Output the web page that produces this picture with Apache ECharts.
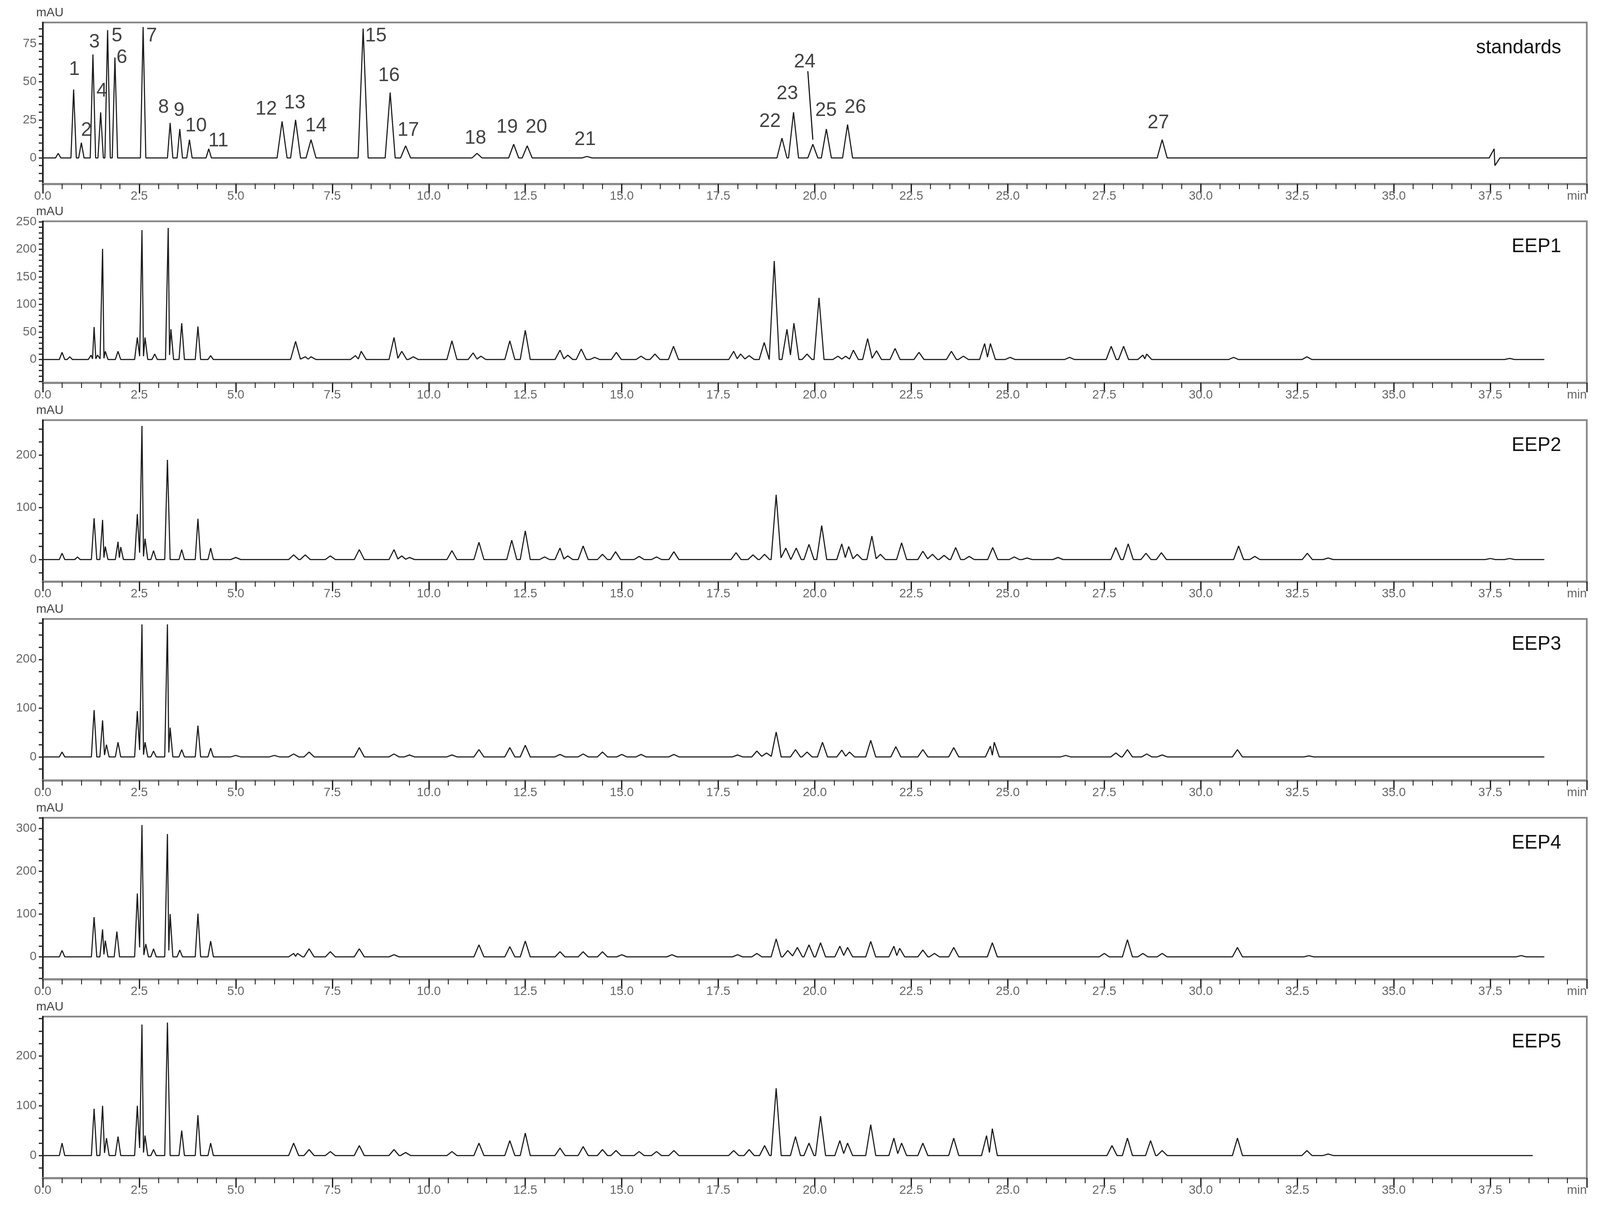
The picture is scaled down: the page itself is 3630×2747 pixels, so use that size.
<!DOCTYPE html>
<html><head><meta charset="utf-8">
<script src="https://cdn.jsdelivr.net/npm/echarts@6/dist/echarts.min.js"></script>
<style>html,body{margin:0;padding:0;background:#fff}#c{width:3630px;height:2747px}</style>
</head><body><div id="c"></div>
<script>
// ---- data: [retention time (min), height (mAU)] ----
const panelNames = ['standards','EEP1','EEP2','EEP3','EEP4','EEP5'];
const xTickLabels = ['0.0','2.5','5.0','7.5','10.0','12.5','15.0','17.5','20.0','22.5','25.0','27.5','30.0','32.5','35.0','37.5','min'];
const traceEnd = [40,38.9,38.9,38.9,38.9,38.6];

const peaksStd = [[0.4,3],[0.8,45],[1.0,10],[1.3,68],[1.5,30],[1.68,84],[1.87,66],[2.6,86],[3.3,23],[3.55,19],[3.8,12],[4.3,6],
 [6.2,24],[6.55,25],[6.95,12],[8.3,85],[9.0,43],[9.4,8],[11.25,3],[12.2,9],[12.55,8],[14.1,1],
 [19.15,13],[19.45,30],[19.95,9],[20.3,19],[20.85,22],[29.0,12],[37.6,6],[37.62,-5]];
const peaksEEP1 = [[0.5,13],[0.7,5],[1.25,8],[1.33,59],[1.42,8],[1.55,201],[1.62,15],[1.95,15],[2.45,40],[2.57,235],[2.65,40],[2.9,10],
 [3.25,239],[3.32,55],[3.6,66],[4.02,60],[4.35,7],[6.55,33],[6.8,5],[6.95,5],[8.1,7],[8.25,15],[9.1,40],[9.3,15],[9.6,5],
 [10.6,34],[11.15,12],[11.35,6],[12.1,34],[12.5,53],[13.4,17],[13.6,8],[13.95,19],[14.3,4],[14.86,13],[15.5,6],[15.86,10],
 [16.34,24],[17.9,15],[18.08,10],[18.3,7],[18.69,31],[18.95,179],[19.28,55],[19.46,66],[19.8,10],[20.11,112],[20.6,6],[20.8,6],
 [21.0,17],[21.37,38],[21.6,16],[22.08,20],[22.7,13],[23.54,15],[23.85,6],[24.4,29],[24.55,29],[25.06,4],[26.6,4],
 [27.68,24],[28.0,24],[28.5,8],[28.6,10],[30.85,4],[32.75,5],[38.0,2]];
const peaksEEP2 = [[0.5,12],[0.9,5],[1.33,79],[1.55,76],[1.62,25],[1.95,34],[2.02,24],[2.45,87],[2.57,256],[2.65,40],[2.87,17],
 [3.23,191],[3.6,19],[4.02,78],[4.35,22],[5.0,4],[6.5,9],[6.8,9],[7.45,7],[8.2,19],[9.1,19],[9.3,7],[9.5,4],[10.6,17],[11.3,33],
 [12.15,37],[12.5,55],[13.0,5],[13.4,22],[13.6,7],[14.0,26],[14.5,10],[14.84,15],[15.45,6],[15.9,5],[16.35,15],[17.96,13],
 [18.4,9],[18.7,10],[19.0,124],[19.25,22],[19.52,22],[19.85,29],[20.18,65],[20.7,30],[20.88,25],[21.1,10],[21.48,45],[21.7,10],
 [22.25,32],[22.8,16],[23.05,10],[23.35,8],[23.65,23],[24.0,6],[24.61,23],[25.17,5],[25.5,3],[26.3,4],[27.8,23],[28.12,30],
 [28.58,12],[28.98,13],[30.98,26],[31.4,6],[32.76,12],[33.3,3],[37.5,2],[38.0,2]];
const peaksEEP3 = [[0.5,10],[1.33,96],[1.55,75],[1.65,25],[1.95,30],[2.45,94],[2.57,272],[2.65,30],[2.87,12],[3.23,272],[3.3,60],
 [3.6,15],[4.02,64],[4.35,18],[5.0,3],[6.0,3],[6.5,6],[6.9,10],[8.2,19],[9.1,6],[9.5,4],[10.6,4],[11.3,15],[12.1,19],[12.5,24],
 [13.4,5],[14.0,6],[14.5,10],[15.0,5],[15.5,5],[16.35,5],[18.0,4],[18.5,12],[18.75,8],[19.0,51],[19.5,15],[19.8,10],[20.2,30],
 [20.7,14],[20.9,10],[21.45,34],[22.1,21],[22.8,15],[23.6,19],[24.55,22],[24.65,30],[26.5,3],[27.8,8],[28.1,15],[28.6,6],[29.0,4],
 [30.95,15],[32.8,2]];
const peaksEEP4 = [[0.5,15],[1.33,93],[1.55,64],[1.62,38],[1.92,59],[2.45,148],[2.57,308],[2.67,30],[2.87,19],[3.23,287],[3.3,100],
 [3.55,16],[4.02,101],[4.35,37],[6.5,8],[6.6,8],[6.9,19],[7.45,12],[8.2,19],[9.1,5],[11.3,28],[12.1,24],[12.5,37],[13.4,12],
 [14.0,12],[14.5,12],[15.0,5],[16.3,5],[18.0,5],[18.5,8],[19.0,42],[19.3,15],[19.55,22],[19.85,28],[20.15,33],[20.65,25],[20.85,22],
 [21.45,36],[22.05,25],[22.2,20],[22.8,16],[23.1,8],[23.6,22],[24.6,33],[27.5,8],[28.1,40],[28.5,8],[29.0,8],[30.95,22],[32.8,3],[38.3,3]];
const peaksEEP5 = [[0.5,25],[1.33,94],[1.55,100],[1.65,35],[1.95,38],[2.45,100],[2.57,263],[2.65,40],[2.87,12],[3.23,267],[3.6,50],
 [4.02,81],[4.35,25],[6.5,25],[6.9,12],[7.45,8],[8.2,20],[9.1,12],[9.4,6],[10.6,8],[11.3,25],[12.1,30],[12.5,45],[13.4,15],[14.0,18],
 [14.5,12],[14.85,10],[15.45,8],[15.9,8],[16.35,10],[17.9,10],[18.3,12],[18.7,20],[19.0,135],[19.5,38],[19.85,25],[20.15,79],
 [20.65,30],[20.85,25],[21.45,62],[22.05,35],[22.25,25],[22.8,25],[23.6,35],[24.45,40],[24.6,54],[27.7,20],[28.1,35],[28.7,30],
 [29.0,10],[30.95,35],[32.75,10],[33.3,3]];

// standard peak labels: [time, mAU, text]
const stdLabels = [[0.82,58,'1'],[1.13,18,'2'],[1.34,76,'3'],[1.53,44,'4'],[1.92,80,'5'],[2.05,66,'6'],[2.82,80,'7'],[3.13,33,'8'],
 [3.53,31,'9'],[3.97,21,'10'],[4.55,11,'11'],[5.79,32,'12'],[6.53,36,'13'],[7.08,21,'14'],[8.63,80,'15'],[8.97,54,'16'],[9.47,18,'17'],
 [11.21,13,'18'],[12.03,20,'19'],[12.79,20,'20'],[14.05,12,'21'],[18.84,24,'22'],[19.29,42,'23'],[19.74,63,'24'],[20.29,31,'25'],
 [21.05,33,'26'],[28.9,23,'27']];
const leader24 = [[19.82,57],[19.95,12]];

const yMin = [-17,-42,-42,-48,-52,-45];
const yMax = [89,251,267,283,325,279];
const yLabelVals = [[0,25,50,75],[0,50,100,150,200,250],[0,100,200],[0,100,200],[0,100,200,300],[0,100,200]];
const yTickStep = [5,10,25,25,25,25];
const allPeaks = [peaksStd,peaksEEP1,peaksEEP2,peaksEEP3,peaksEEP4,peaksEEP5];

// ---- build trace points (baseline - apex - baseline) ----
function trace(peaks,end){
  const pts=[[0,0]];
  for(let i=0;i<peaks.length;i++){
    const [t,h]=peaks[i];
    const w = t<5?0.07:0.13;
    let l=t-w, r=t+w, lv=0, rv=0;
    if(i>0){const p=peaks[i-1]; const m=(p[0]+t)/2; if(l<m){l=m; lv=Math.max(0,Math.min(p[1],h))*0.15;}}
    if(i<peaks.length-1){const n=peaks[i+1]; const m=(n[0]+t)/2; if(r>m){r=m; rv=Math.max(0,Math.min(n[1],h))*0.15;}}
    if(pts[pts.length-1][0]<l) pts.push([l,lv]);
    pts.push([t,h]);
    if(r>t+0.011) pts.push([r,rv]);
  }
  pts.push([end,0]);
  return pts;
}

const L=97, R=30, H=366;
const tops=[51,502,953,1404,1855,2306];
const font="'Liberation Sans Narrow','Liberation Sans',Arial,sans-serif";
const grids=[],xAxes=[],yAxes=[],series=[],graphics=[];
for(let i=0;i<6;i++){
  grids.push({left:L,right:R,top:tops[i],height:H,show:true,borderColor:'#8a8a8a',borderWidth:4,backgroundColor:'transparent'});
  xAxes.push({type:'value',gridIndex:i,min:0,max:40,interval:2.5,
    axisLine:{onZero:false,lineStyle:{color:'#8a8a8a',width:5}},
    axisTick:{length:22,lineStyle:{color:'#222',width:3}},
    minorTick:{show:true,splitNumber:5,length:12,lineStyle:{color:'#222',width:2}},
    splitLine:{show:false},
    axisLabel:{fontFamily:font,fontSize:28,color:'#666',margin:14,alignMaxLabel:'right',
      formatter:v=>xTickLabels[Math.round(v/2.5)]}});
  const minor=[]; for(let v=Math.ceil(yMin[i]/yTickStep[i])*yTickStep[i]; v<=yMax[i]; v+=yTickStep[i]) minor.push(v);
  yAxes.push({type:'value',gridIndex:i,min:yMin[i],max:yMax[i],
    axisLine:{show:true,lineStyle:{color:'#111',width:3}},
    axisTick:{show:true,customValues:minor,length:9,lineStyle:{color:'#333',width:3}},
    splitLine:{show:false},
    axisLabel:{customValues:yLabelVals[i],fontFamily:font,fontSize:28,color:'#666',margin:14}});
  series.push({type:'line',xAxisIndex:i,yAxisIndex:i,data:trace(allPeaks[i],traceEnd[i]),showSymbol:false,
    lineStyle:{color:'#1a1a1a',width:2.5},animation:false});
  graphics.push({type:'text',left:82,top:tops[i]-36,style:{text:'mAU',font:"28px "+font,fill:'#444'}});
  graphics.push({type:'text',right:88,top:tops[i]+36,style:{text:panelNames[i],font:"44px 'Liberation Sans',Arial,sans-serif",fill:'#111'}});
}
series.push({type:'scatter',xAxisIndex:0,yAxisIndex:0,symbolSize:0,animation:false,
  data:stdLabels.map(d=>({value:[d[0],d[1]],name:d[2]})),
  label:{show:true,position:'inside',formatter:p=>p.name,fontFamily:"'Liberation Sans',Arial,sans-serif",fontSize:44,color:'#111'}});
series.push({type:'line',xAxisIndex:0,yAxisIndex:0,data:leader24,showSymbol:false,lineStyle:{color:'#111',width:2.5},animation:false});

const chart=echarts.init(document.getElementById('c'));
chart.setOption({animation:false,grid:grids,xAxis:xAxes,yAxis:yAxes,series:series,graphic:graphics});
</script></body></html>
